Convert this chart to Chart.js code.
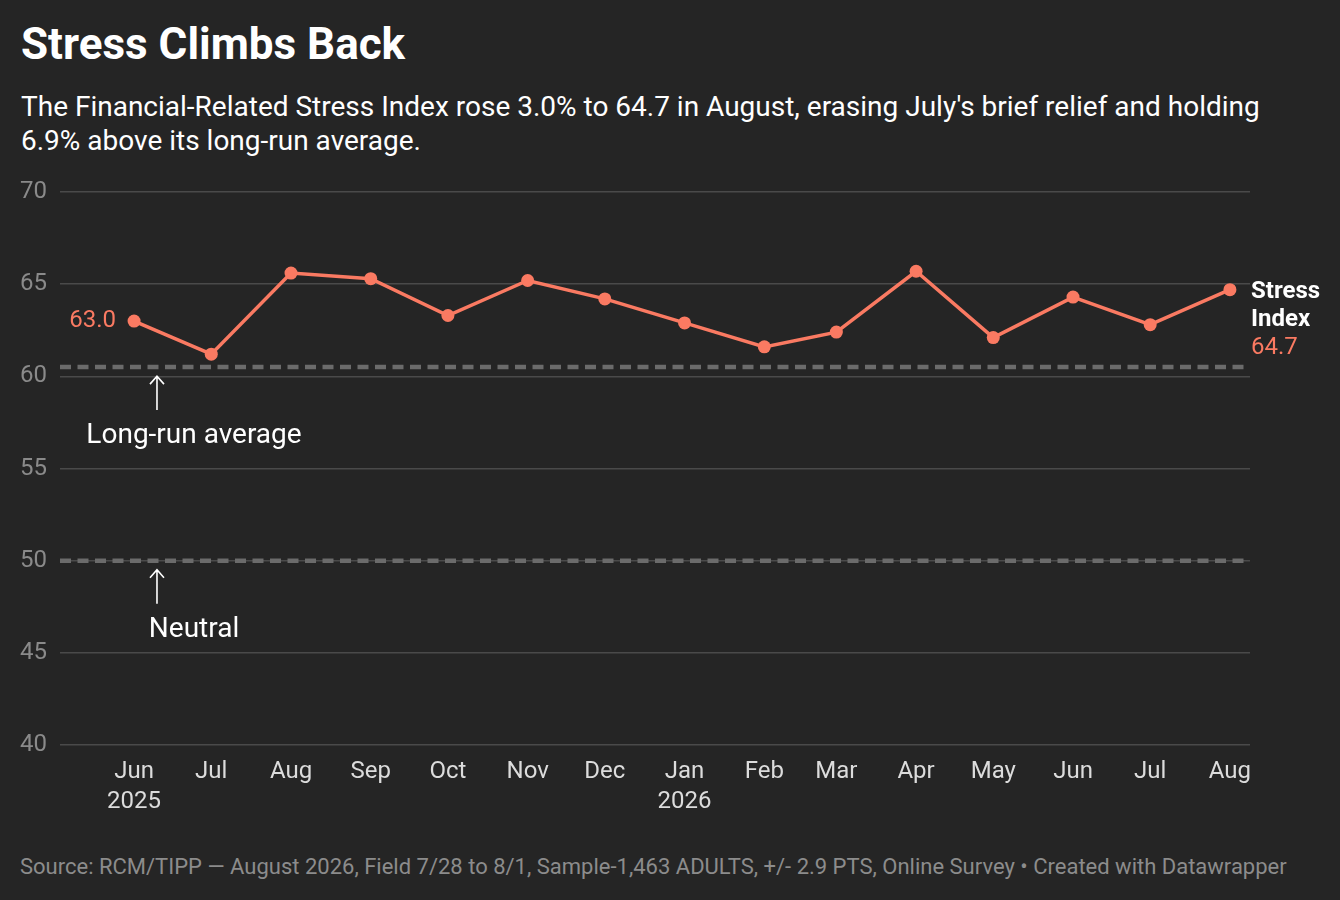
<!DOCTYPE html>
<html>
<head>
<meta charset="utf-8">
<script src="https://cdn.jsdelivr.net/npm/chart.js@4.4.1/dist/chart.umd.min.js"></script>
<style>
    html, body {
        margin: 0;
        padding: 0;
        background: #252525;
        width: 1340px;
        height: 900px;
        overflow: hidden;
        font-family: Roboto, "Noto Sans", sans-serif;
    }
    .title {
        position: absolute;
        left: 21px;
        top: 18px;
        font-size: 44px;
        line-height: 52px;
        font-weight: 700;
        color: #ffffff;
    }
    .subtitle {
        position: absolute;
        left: 21px;
        top: 90px;
        font-size: 28px;
        line-height: 34px;
        color: #ffffff;
        white-space: nowrap;
    }
    .chart-box {
        position: absolute;
        left: 0;
        top: 171px;
        width: 1340px;
        height: 660px;
    }
    .source {
        position: absolute;
        left: 20px;
        top: 854px;
        font-size: 22px;
        line-height: 26px;
        color: #8c8c8c;
        white-space: nowrap;
    }
</style>
</head>
<body>
<div class="title">Stress Climbs Back</div>
<div class="subtitle">The Financial-Related Stress Index rose 3.0% to 64.7 in August, erasing July's brief relief and holding<br>6.9% above its long-run average.</div>
<div class="chart-box"><canvas id="stressChart"></canvas></div>
<div class="source">Source: RCM/TIPP — August 2026, Field 7/28 to 8/1, Sample-1,463 ADULTS, +/- 2.9 PTS, Online Survey • Created with Datawrapper</div>

<script>
// Data
const months = ['2025-06', '2025-07', '2025-08', '2025-09', '2025-10', '2025-11', '2025-12',
                '2026-01', '2026-02', '2026-03', '2026-04', '2026-05', '2026-06', '2026-07', '2026-08'];
const monthLabels = ['Jun', 'Jul', 'Aug', 'Sep', 'Oct', 'Nov', 'Dec',
                     'Jan', 'Feb', 'Mar', 'Apr', 'May', 'Jun', 'Jul', 'Aug'];
const yearLabels = ['2025', '', '', '', '', '', '', '2026', '', '', '', '', '', '', ''];
const stressIndex = [63.0, 61.2, 65.6, 65.3, 63.3, 65.2, 64.2, 62.9, 61.6, 62.4, 65.7, 62.1, 64.3, 62.8, 64.7];
const yTicks = [40, 45, 50, 55, 60, 65, 70];
const longRunAverage = 60.5;
const neutral = 50;

const CORAL = '#fa7a62';
const FONT = 'Roboto, "Noto Sans", sans-serif';

// months -> days since first month, so the axis spacing follows real month lengths
const baseDay = Date.UTC(2025, 5, 1) / 86400000;
function toDay(ym) {
    const parts = ym.split('-');
    return Date.UTC(+parts[0], +parts[1] - 1, 1) / 86400000 - baseDay;
}
const xValues = months.map(toDay);
const xMin = xValues[0] - 28.8;
const xMax = xValues[xValues.length - 1] + 7.8;

const points = xValues.map((x, i) => ({ x: x, y: stressIndex[i] }));

function refLine(value) {
    return {
        data: [{ x: xMin, y: value }, { x: xMax, y: value }],
        borderColor: '#6b6b6b',
        borderWidth: 4.5,
        borderDash: [11, 6.5],
        pointRadius: 0,
        fill: false,
        order: 2
    };
}

// labels, arrows and notes on top of the plot
const annotations = {
    id: 'annotations',
    afterDatasetsDraw(chart) {
        const ctx = chart.ctx;
        const xs = chart.scales.x;
        const ys = chart.scales.y;
        const area = chart.chartArea;
        ctx.save();

        // first value label
        const first = chart.getDatasetMeta(0).data[0];
        ctx.font = '24px ' + FONT;
        ctx.fillStyle = CORAL;
        ctx.textAlign = 'right';
        ctx.textBaseline = 'middle';
        ctx.fillText(stressIndex[0].toFixed(1), first.x - 18, first.y);

        // series label at the end
        const last = chart.getDatasetMeta(0).data[stressIndex.length - 1];
        ctx.textAlign = 'left';
        ctx.font = 'bold 24px ' + FONT;
        ctx.fillStyle = '#ffffff';
        ctx.fillText('Stress', area.right + 1, last.y + 2);
        ctx.fillText('Index', area.right + 1, last.y + 30);
        ctx.font = '24px ' + FONT;
        ctx.fillStyle = CORAL;
        ctx.fillText(stressIndex[stressIndex.length - 1].toFixed(1), area.right + 1, last.y + 58);

        // reference line notes with arrows
        const notes = [
            { value: longRunAverage, text: 'Long-run average' },
            { value: neutral, text: 'Neutral' }
        ];
        const arrowX = xs.getPixelForValue(8.9);
        const textX = xs.getPixelForValue(23.3);
        notes.forEach(n => {
            const y = ys.getPixelForValue(n.value);
            ctx.strokeStyle = '#ffffff';
            ctx.lineWidth = 1.6;
            ctx.beginPath();
            ctx.moveTo(arrowX, y + 43);
            ctx.lineTo(arrowX, y + 9);
            ctx.moveTo(arrowX - 7, y + 17);
            ctx.lineTo(arrowX, y + 9);
            ctx.lineTo(arrowX + 7, y + 17);
            ctx.stroke();

            ctx.font = '28px ' + FONT;
            ctx.fillStyle = '#ffffff';
            ctx.textAlign = 'center';
            ctx.textBaseline = 'middle';
            ctx.fillText(n.text, textX, y + 69);
        });
        ctx.restore();
    }
};

const ctx = document.getElementById('stressChart').getContext('2d');
new Chart(ctx, {
    type: 'line',
    data: {
        datasets: [
            {
                label: 'Stress Index',
                data: points,
                borderColor: CORAL,
                backgroundColor: CORAL,
                borderWidth: 3.5,
                pointRadius: 6.5,
                pointBorderWidth: 0,
                pointBackgroundColor: CORAL,
                tension: 0,
                order: 0
            },
            refLine(longRunAverage),
            refLine(neutral)
        ]
    },
    options: {
        responsive: true,
        maintainAspectRatio: false,
        animation: false,
        devicePixelRatio: 1,
        layout: {
            padding: { left: 20, right: 90, top: 21, bottom: 0 }
        },
        scales: {
            x: {
                type: 'linear',
                min: xMin,
                max: xMax,
                grid: { display: false, drawTicks: false },
                border: { display: false },
                afterBuildTicks: function(scale) {
                    scale.ticks = xValues.map(v => ({ value: v }));
                },
                afterFit: function(scale) {
                    scale.height = 86;
                },
                ticks: {
                    autoSkip: false,
                    maxRotation: 0,
                    padding: 12,
                    color: '#dcdcdc',
                    font: { family: FONT, size: 24, lineHeight: 1.25 },
                    callback: function(value) {
                        const i = xValues.indexOf(value);
                        if (i < 0) return '';
                        return yearLabels[i] ? [monthLabels[i], yearLabels[i]] : monthLabels[i];
                    }
                }
            },
            y: {
                min: 40,
                max: 70,
                afterBuildTicks: function(scale) {
                    scale.ticks = yTicks.map(v => ({ value: v }));
                },
                afterFit: function(scale) {
                    scale.width = 40;
                },
                grid: { color: '#4a4a4a', lineWidth: 1.5, drawTicks: false },
                border: { display: false },
                ticks: {
                    crossAlign: 'far',
                    padding: 0,
                    color: '#8a8a8a',
                    font: { family: FONT, size: 24 }
                }
            }
        },
        plugins: {
            legend: { display: false },
            tooltip: { enabled: false }
        }
    },
    plugins: [annotations]
});
</script>
</body>
</html>
